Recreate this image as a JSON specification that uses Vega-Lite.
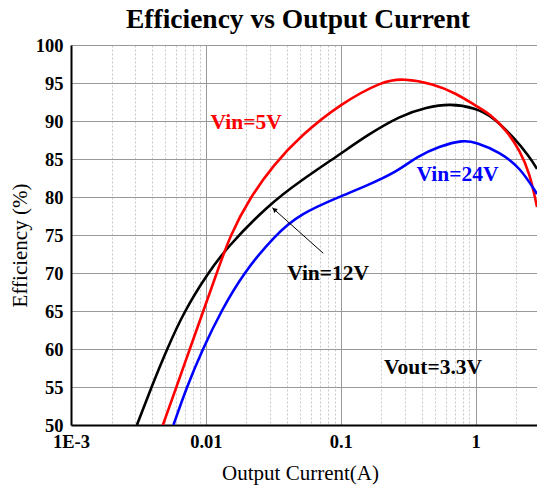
{
  "$schema": "https://vega.github.io/schema/vega-lite/v6.json",
  "width": 466,
  "height": 380,
  "autosize": "none",
  "padding": {"left": 71, "top": 45, "right": 0, "bottom": 64},
  "background": "white",
  "title": {
    "text": "Efficiency vs Output Current",
    "font": "Liberation Serif",
    "fontSize": 27.5,
    "fontWeight": "bold",
    "color": "black",
    "offset": 3,
    "dx": -6
  },
  "config": {
    "view": {"stroke": null},
    "font": "Liberation Serif"
  },
  "datasets": {
    "curves": [
      {"s": "12V", "I": 0.00308, "E": 50},
      {"s": "12V", "I": 0.00395, "E": 55},
      {"s": "12V", "I": 0.00515, "E": 60},
      {"s": "12V", "I": 0.00692, "E": 65},
      {"s": "12V", "I": 0.01037, "E": 70},
      {"s": "12V", "I": 0.01438, "E": 73.4},
      {"s": "12V", "I": 0.0289, "E": 78.9},
      {"s": "12V", "I": 0.05, "E": 82.1},
      {"s": "12V", "I": 0.1, "E": 85.7},
      {"s": "12V", "I": 0.156, "E": 88.1},
      {"s": "12V", "I": 0.275, "E": 90.7},
      {"s": "12V", "I": 0.434, "E": 91.8},
      {"s": "12V", "I": 0.645, "E": 92.3},
      {"s": "12V", "I": 1.0, "E": 91.7},
      {"s": "12V", "I": 1.35, "E": 90.5},
      {"s": "12V", "I": 1.9, "E": 87.9},
      {"s": "12V", "I": 2.51, "E": 85.3},
      {"s": "12V", "I": 2.85, "E": 83.7},
      {"s": "5V", "I": 0.0048, "E": 50},
      {"s": "5V", "I": 0.00605, "E": 55},
      {"s": "5V", "I": 0.0076, "E": 60},
      {"s": "5V", "I": 0.00957, "E": 65},
      {"s": "5V", "I": 0.01205, "E": 70},
      {"s": "5V", "I": 0.01514, "E": 75},
      {"s": "5V", "I": 0.02136, "E": 80},
      {"s": "5V", "I": 0.0317, "E": 84.2},
      {"s": "5V", "I": 0.05, "E": 88.0},
      {"s": "5V", "I": 0.1, "E": 92.3},
      {"s": "5V", "I": 0.207, "E": 95.3},
      {"s": "5V", "I": 0.291, "E": 95.6},
      {"s": "5V", "I": 0.485, "E": 94.9},
      {"s": "5V", "I": 0.723, "E": 93.6},
      {"s": "5V", "I": 1.0, "E": 92.0},
      {"s": "5V", "I": 1.276, "E": 90.95},
      {"s": "5V", "I": 1.698, "E": 88.75},
      {"s": "5V", "I": 2.13, "E": 86.1},
      {"s": "5V", "I": 2.52, "E": 83.1},
      {"s": "5V", "I": 2.85, "E": 78.7},
      {"s": "24V", "I": 0.00575, "E": 50},
      {"s": "24V", "I": 0.00721, "E": 55},
      {"s": "24V", "I": 0.00947, "E": 60},
      {"s": "24V", "I": 0.01298, "E": 65},
      {"s": "24V", "I": 0.019, "E": 70},
      {"s": "24V", "I": 0.0326, "E": 75},
      {"s": "24V", "I": 0.05, "E": 77.8},
      {"s": "24V", "I": 0.1, "E": 80.1},
      {"s": "24V", "I": 0.156, "E": 81.5},
      {"s": "24V", "I": 0.26, "E": 83.3},
      {"s": "24V", "I": 0.366, "E": 85.3},
      {"s": "24V", "I": 0.544, "E": 86.7},
      {"s": "24V", "I": 0.809, "E": 87.5},
      {"s": "24V", "I": 1.0, "E": 87.2},
      {"s": "24V", "I": 1.514, "E": 85.9},
      {"s": "24V", "I": 2.13, "E": 83.9},
      {"s": "24V", "I": 2.85, "E": 80.4}
    ],
    "labels": [
      {"s": "5V", "t": "Vin=5V", "I": 0.0199, "E": 89.7},
      {"s": "24V", "t": "Vin=24V", "I": 0.733, "E": 82.85},
      {"s": "12V", "t": "Vin=12V", "I": 0.0806, "E": 69.9},
      {"s": "Vout", "t": "Vout=3.3V", "I": 0.483, "E": 57.5}
    ],
    "arrow": [
      {"I": 0.0741, "E": 72.6, "I2": 0.031, "E2": 78.6}
    ],
    "arrowhead": [
      {"I": 0.0325, "E": 78.3}
    ]
  },
  "encoding": {
    "x": {
      "field": "I", "type": "quantitative",
      "scale": {"type": "log", "domain": [0.001, 2.85], "nice": false},
      "axis": {
        "values": [0.001, 0.002, 0.003, 0.004, 0.005, 0.006, 0.007, 0.008, 0.009,
                   0.01, 0.02, 0.03, 0.04, 0.05, 0.06, 0.07, 0.08, 0.09,
                   0.1, 0.2, 0.3, 0.4, 0.5, 0.6, 0.7, 0.8, 0.9, 1, 2],
        "labelExpr": "abs(log(datum.value)/LN10 - round(log(datum.value)/LN10)) > 0.01 ? '' : datum.value < 0.005 ? '1E-3' : datum.value < 0.05 ? '0.01' : datum.value < 0.5 ? '0.1' : '1'",
        "title": "Output Current(A)",
        "titleFont": "Liberation Serif", "titleFontSize": 21, "titleFontWeight": "normal", "titleColor": "black",
        "titleX": 229, "titleY": 54, "titleBaseline": "alphabetic", "titleAlign": "center",
        "labelFont": "Liberation Serif", "labelFontSize": 18.5, "labelFontWeight": "bold", "labelColor": "black",
        "labelPadding": 7, "tickSize": 0, "ticks": false,
        "labelOverlap": false, "labelFlush": false,
        "domainColor": "black", "domainWidth": 2,
        "grid": true,
        "gridColor": {"condition": {"test": "abs(log(datum.value)/LN10 - round(log(datum.value)/LN10)) > 0.01", "value": "#c8c8c8"}, "value": "#999999"},
        "gridDash": {"condition": {"test": "abs(log(datum.value)/LN10 - round(log(datum.value)/LN10)) > 0.01", "value": [2, 2]}, "value": []},
        "gridWidth": 1
      }
    },
    "y": {
      "field": "E", "type": "quantitative",
      "scale": {"domain": [50, 100], "nice": false, "zero": false},
      "axis": {
        "values": [50, 55, 60, 65, 70, 75, 80, 85, 90, 95, 100],
        "title": "Efficiency (%)",
        "titleFont": "Liberation Serif", "titleFontSize": 21, "titleFontWeight": "normal", "titleColor": "black",
        "titleX": -44.5, "titleY": 200, "titleBaseline": "alphabetic", "titleAlign": "center", "titleAngle": -90,
        "labelFont": "Liberation Serif", "labelFontSize": 18.5, "labelFontWeight": "bold", "labelColor": "black",
        "labelPadding": 8, "tickSize": 0, "ticks": false, "labelOverlap": false, "labelFlush": false,
        "domainColor": "black", "domainWidth": 2,
        "grid": true, "gridColor": "#999999", "gridWidth": 1
      }
    }
  },
  "layer": [
    {
      "data": {"name": "curves"},
      "mark": {"type": "line", "strokeWidth": 2.6, "interpolate": "basis", "clip": true},
      "encoding": {
        "color": {
          "field": "s", "type": "nominal",
          "scale": {"domain": ["5V", "12V", "24V", "Vout"], "range": ["#ff0000", "#000000", "#0000ff", "#000000"]},
          "legend": null
        },
        "detail": {"field": "s"}
      }
    },
    {
      "data": {"values": [{"E": 100}]},
      "mark": {"type": "rule", "color": "black", "strokeWidth": 2},
      "encoding": {
        "x": {"datum": 0.001},
        "x2": {"datum": 2.85}
      }
    },
    {
      "data": {"name": "arrow"},
      "mark": {"type": "rule", "color": "black", "strokeWidth": 1},
      "encoding": {
        "x2": {"field": "I2"},
        "y2": {"field": "E2"}
      }
    },
    {
      "data": {"name": "arrowhead"},
      "mark": {"type": "point", "shape": "triangle", "filled": true, "color": "black", "size": 28, "angle": 312, "opacity": 1}
    },
    {
      "data": {"name": "labels"},
      "mark": {"type": "text", "font": "Liberation Serif", "fontSize": 21.5, "fontWeight": "bold", "align": "center", "baseline": "middle"},
      "encoding": {
        "text": {"field": "t"},
        "color": {"field": "s", "type": "nominal"}
      }
    }
  ]
}
